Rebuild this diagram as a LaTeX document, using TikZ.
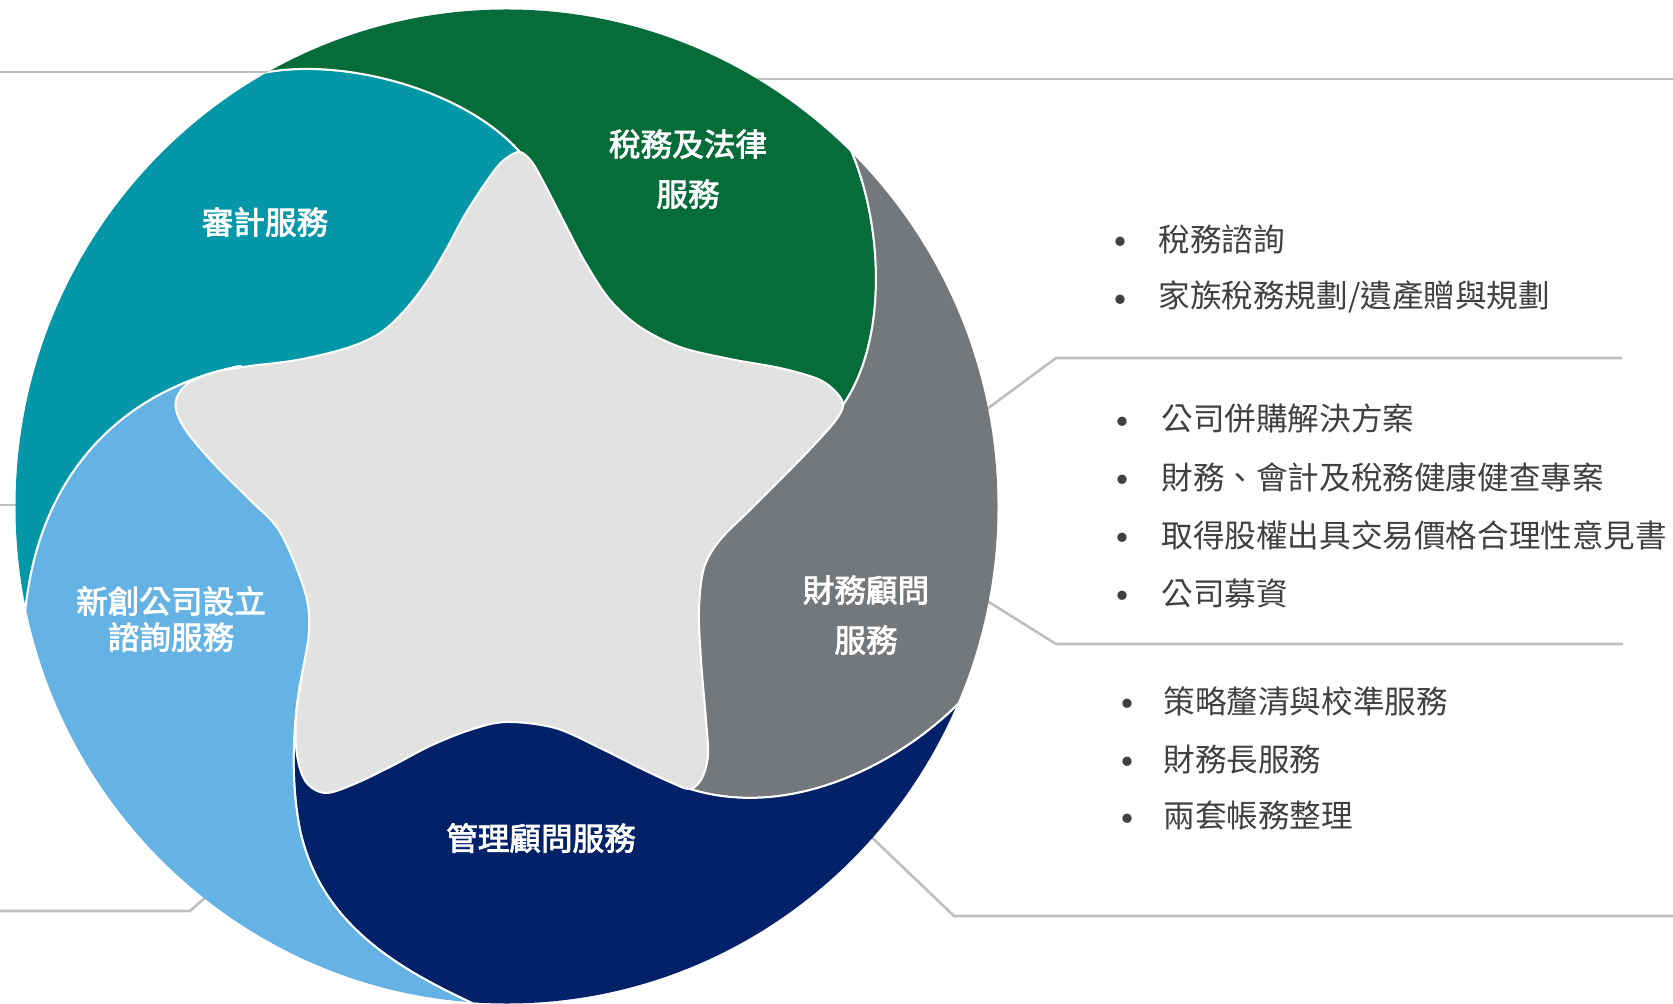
\documentclass[tikz,border=0pt]{standalone}
\usepackage{fontspec}
\newfontfamily\cjk{Noto Sans CJK TC}
\newfontfamily\cjkmed[FakeBold=2.5]{Noto Sans CJK TC}
\definecolor{cteal}{HTML}{0397A8}
\definecolor{cgreen}{HTML}{066C3A}
\definecolor{cgray}{HTML}{75787B}
\definecolor{cnavy}{HTML}{022169}
\definecolor{cblue}{HTML}{64B3E4}
\definecolor{cstar}{HTML}{E2E2E0}
\definecolor{cline}{HTML}{BFBFBF}
\definecolor{ctext}{HTML}{404040}
\begin{document}
\begin{tikzpicture}[x=0.5pt,y=-0.5pt,
  petal/.style={draw=white, line width=1pt, line join=round},
  guide/.style={draw=cline, line width=1.3pt},
  lbl/.style={text=white, font=\cjkmed\fontsize{15.8pt}{25pt}\selectfont, align=center, inner sep=0pt},
  lbltight/.style={lbl, font=\cjkmed\fontsize{15.8pt}{18pt}\selectfont},
  item/.style={text=ctext, font=\cjk\fontsize{15.8pt}{19pt}\selectfont, anchor=west, inner sep=0pt},
  dot/.style={text=ctext, font=\cjk\fontsize{22pt}{24pt}\selectfont, inner sep=0pt}]
\useasboundingbox (0,0) rectangle (1673,1004);

% guide lines (behind the circle)
\coordinate (g1a) at (0,72);    \coordinate (g1b) at (300,72);
\coordinate (g2a) at (700,79);  \coordinate (g2b) at (1673,79);
\coordinate (g3a) at (0,505);   \coordinate (g3b) at (100,505);
\coordinate (g4a) at (0,911);   \coordinate (g4b) at (190,911); \coordinate (g4c) at (230,876);
\coordinate (g5a) at (960,429); \coordinate (g5b) at (1056,358); \coordinate (g5c) at (1622,358);
\coordinate (g6a) at (960,584); \coordinate (g6b) at (1056,644); \coordinate (g6c) at (1623,644);
\coordinate (g7a) at (840,807); \coordinate (g7b) at (954,916); \coordinate (g7c) at (1673,916);
\draw[guide] (g1a) -- (g1b);
\draw[guide] (g2a) -- (g2b);
\draw[guide] (g3a) -- (g3b);
\draw[guide] (g4a) -- (g4b) -- (g4c);
\draw[guide] (g5a) -- (g5b) -- (g5c);
\draw[guide] (g6a) -- (g6b) -- (g6c);
\draw[guide] (g7a) -- (g7b) -- (g7c);

% key points
\coordinate (Z) at (510,508);
\coordinate (Q1) at (254,75);   \coordinate (T1) at (520,152);  \coordinate (O1) at (1.5,-356.5);
\coordinate (Q2) at (836,122);  \coordinate (T2) at (843,405);  \coordinate (O2) at (1165.5,-262.5);
\coordinate (Q3) at (964,698);  \coordinate (T3) at (690,789);  \coordinate (O3) at (1421.5,889.5);
\coordinate (Q4) at (472,1003); \coordinate (T4) at (305,660);  \coordinate (O4) at (437.5,1499.5);
\coordinate (Q5) at (24,630);   \coordinate (T5) at (240,366);  \coordinate (O5) at (-458.5,753.5);

\begin{scope}
\clip (506.5,506.5) ellipse [x radius=245.5pt, y radius=248.5pt];
% teal
\path[petal, fill=cteal] (Z) -- (T5) .. controls (100,395) and (30,500) .. (Q5) -- (O5) -- (O1)
  -- (Q1) .. controls (330,55) and (460,85) .. (T1) -- cycle;
% green
\path[petal, fill=cgreen] (Z) -- (T1) .. controls (460,85) and (330,55) .. (Q1) -- (O1) -- (O2)
  -- (Q2) .. controls (880,190) and (895,330) .. (T2) -- cycle;
% gray
\path[petal, fill=cgray] (Z) -- (T2) .. controls (895,330) and (880,190) .. (Q2) -- (O2) -- (O3)
  -- (Q3) .. controls (900,765) and (790,820) .. (T3) -- cycle;
% navy
\path[petal, fill=cnavy] (Z) -- (T3) .. controls (790,820) and (900,765) .. (Q3) -- (O3) -- (O4)
  -- (Q4) .. controls (390,965) and (320,920) .. (300,830) .. controls (288,770) and (295,700) .. (T4) -- cycle;
% light blue
\path[petal, fill=cblue] (Z) -- (T4) .. controls (295,700) and (288,770) .. (300,830) .. controls (320,920) and (390,965) .. (Q4) -- (O4) -- (O5)
  -- (Q5) .. controls (30,500) and (100,395) .. (T5) -- cycle;
% star
\path[fill=cstar, draw=white, line width=1pt] plot[smooth cycle, tension=0.55] coordinates {
 (520,152) (532,162) (545,185) (563,220) (585,262) (610,300) (640,327) (680,347) (730,359)
 (780,368) (818,379) (836,392) (843,405) (836,420) (815,444) (785,475) (750,510) (720,540)
 (704,568) (699,610) (701,660) (706,720) (708,755) (702,778) (690,789) (670,782) (640,768)
 (600,748) (555,728) (506,722) (470,730) (430,746) (390,767) (352,785) (325,793) (306,782)
 (297,755) (296,715) (303,670) (309,630) (305,592) (280,532) (250,500) (215,465) (187,432)
 (176,410) (178,395) (190,382) (215,372) (250,366) (297,360) (347,348) (380,333) (405,310)
 (428,280) (447,248) (463,218) (480,191) (497,167) (508,157)};
\end{scope}

% petal labels
\node[lbl] (audit) at (265,222) {審計服務};
\node[lbl] (tax) at (688,169) {稅務及法律\\服務};
\node[lbl] (fin) at (866,615) {財務顧問\\服務};
\node[lbl] (mgmt) at (541,838) {管理顧問服務};
\node[lbltight] (startup) at (171,619) {新創公司設立\\諮詢服務};

% lists
\node[dot] (b11) at (1120,247.5) {•}; \node[item] (i11) at (1158,239) {稅務諮詢};
\node[dot] (b12) at (1120,305.5) {•}; \node[item] (i12) at (1158,297) {家族稅務規劃/遺產贈與規劃};

\node[dot] (b21) at (1122,427.5) {•}; \node[item] (i21) at (1161,419) {公司併購解決方案};
\node[dot] (b22) at (1122,485.5) {•}; \node[item] (i22) at (1161,477) {財務、會計及稅務健康健查專案};
\node[dot] (b23) at (1122,543.5) {•}; \node[item] (i23) at (1161,535) {取得股權出具交易價格合理性意見書};
\node[dot] (b24) at (1122,601.5) {•}; \node[item] (i24) at (1161,593) {公司募資};

\node[dot] (b31) at (1127,709.5) {•}; \node[item] (i31) at (1163,701) {策略釐清與校準服務};
\node[dot] (b32) at (1127,767.5) {•}; \node[item] (i32) at (1163,759) {財務長服務};
\node[dot] (b33) at (1127,824.5) {•}; \node[item] (i33) at (1163,816) {兩套帳務整理};
\end{tikzpicture}
\end{document}
